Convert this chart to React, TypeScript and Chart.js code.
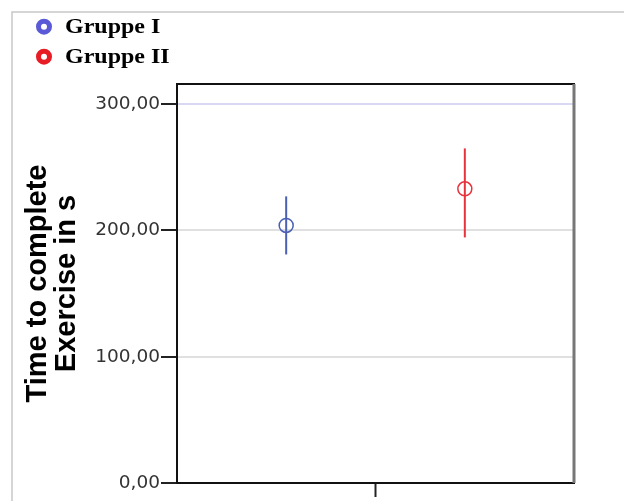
import React, { useEffect, useRef } from "react";
import { Chart, registerables } from "chart.js";

Chart.register(...registerables);

// ---- data ----
const groups = ["Gruppe I", "Gruppe II"];
const means = [204, 233];
const lowerCI = [181, 194.5];
const upperCI = [227, 265];
const yTicks = [0, 100, 200, 300];
const yTitle = ["Time to complete", "Exercise in s"];

// ---- styles ----
const pointColors = ["#4a60b4", "#e8323c"];
const legendColors = ["#5a5ad6", "#e81c24"];
const clusterOffset = 0.45;

const framePlugin = {
  id: "frame",
  afterDraw(chart: any) {
    const { ctx, chartArea } = chart;
    const { left, right, top, bottom } = chartArea;
    ctx.save();
    // outer light frame
    ctx.strokeStyle = "#c8c8c8";
    ctx.lineWidth = 1.5;
    ctx.beginPath();
    ctx.moveTo(12, 501);
    ctx.lineTo(12, 12);
    ctx.lineTo(624, 12);
    ctx.stroke();
    // top border
    ctx.strokeStyle = "#111";
    ctx.lineWidth = 2;
    ctx.beginPath();
    ctx.moveTo(left - 1, top);
    ctx.lineTo(right + 1, top);
    ctx.stroke();
    // right border
    ctx.strokeStyle = "#777";
    ctx.lineWidth = 3;
    ctx.beginPath();
    ctx.moveTo(right, top);
    ctx.lineTo(right, bottom);
    ctx.stroke();
    // legend
    groups.forEach((g, i) => {
      const cy = 26.7 + i * 30;
      ctx.beginPath();
      ctx.strokeStyle = legendColors[i];
      ctx.lineWidth = 5;
      ctx.arc(44, cy, 5.5, 0, Math.PI * 2);
      ctx.stroke();
      ctx.save();
      ctx.translate(65, cy + 1);
      ctx.scale(1.2, 1);
      ctx.fillStyle = "#000";
      ctx.font = "bold 20px 'Liberation Serif'";
      ctx.textBaseline = "middle";
      ctx.textAlign = "left";
      ctx.fillText(g, 0, 0);
      ctx.restore();
    });
    ctx.restore();
  },
};

export default function App() {
  const ref = useRef<HTMLCanvasElement | null>(null);
  useEffect(() => {
    if (!ref.current) return;
    const pointSets = groups.map((g, i) => ({
      label: g,
      data: [{ x: (i === 0 ? -1 : 1) * clusterOffset, y: means[i] }],
      pointRadius: 7,
      pointHoverRadius: 7,
      pointBorderWidth: 1.5,
      pointBorderColor: pointColors[i],
      pointBackgroundColor: "rgba(0,0,0,0)",
      showLine: false,
      order: 0,
    }));
    const barSets = groups.map((g, i) => ({
      label: g + " CI",
      data: [
        { x: (i === 0 ? -1 : 1) * clusterOffset, y: lowerCI[i] },
        { x: (i === 0 ? -1 : 1) * clusterOffset, y: upperCI[i] },
      ],
      showLine: true,
      borderColor: pointColors[i],
      borderWidth: 2,
      pointRadius: 0,
      order: 1,
    }));
    const chart = new Chart(ref.current, {
      type: "scatter",
      data: { datasets: [...barSets, ...pointSets] as any },
      plugins: [framePlugin],
      options: {
        animation: false,
        responsive: false,
        layout: { padding: { left: 12, top: 84, right: 50, bottom: 0 } },
        plugins: { legend: { display: false }, tooltip: { enabled: false } },
        scales: {
          x: {
            type: "linear",
            min: -1,
            max: 1,
            afterBuildTicks: (s: any) => {
              s.ticks = [{ value: 0 }];
            },
            afterFit: (s: any) => {
              s.height = 18;
            },
            ticks: { callback: () => "" },
            grid: {
              drawOnChartArea: false,
              drawTicks: true,
              tickLength: 14,
              tickColor: "#222",
              tickWidth: 2,
            },
            border: { color: "#111", width: 2 },
          },
          y: {
            type: "linear",
            min: 0,
            max: 316,
            afterBuildTicks: (s: any) => {
              s.ticks = yTicks.map((v) => ({ value: v }));
            },
            afterFit: (s: any) => {
              s.width = 165;
            },
            ticks: {
              padding: 1,
              color: "#333",
              font: { family: "'DejaVu Sans'", size: 18.5 },
              callback: (v: any) => Number(v).toFixed(2).replace(".", ","),
            },
            grid: {
              color: (c: any) =>
                c.tick && c.tick.value === 300
                  ? "#d8d8f2"
                  : c.tick && c.tick.value === 0
                  ? "rgba(0,0,0,0)"
                  : "#e0e0e0",
              lineWidth: 2,
              tickLength: 16,
              tickColor: "#222",
              tickWidth: 2,
            },
            border: { color: "#111", width: 2 },
            title: {
              display: true,
              text: yTitle,
              color: "#000",
              padding: { top: 11, bottom: 0 },
              font: { family: "'Liberation Sans', Arial", size: 29, weight: "bold", lineHeight: "29px" },
            },
          },
        },
      },
    });
    return () => chart.destroy();
  }, []);
  return (
    <div style={{ position: "fixed", left: 0, top: 0, width: 624, height: 501, background: "#fff" }}>
      <canvas ref={ref} width={624} height={501} style={{ display: "block" }} />
    </div>
  );
}
